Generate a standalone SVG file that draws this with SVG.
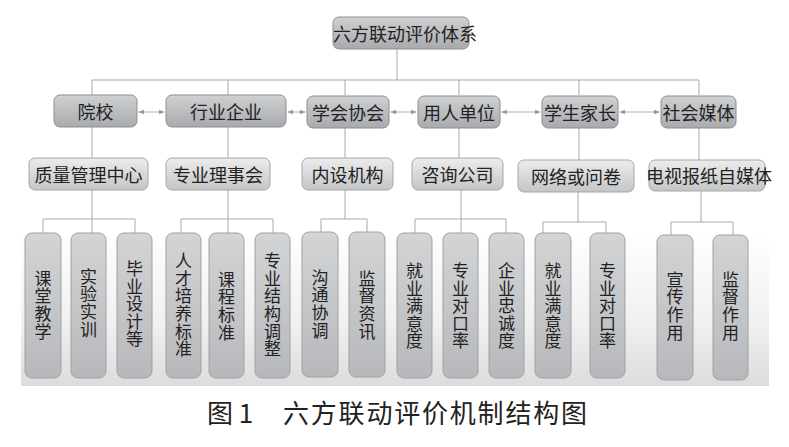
<svg xmlns="http://www.w3.org/2000/svg" width="789" height="447" viewBox="0 0 789 447">
<defs>
<linearGradient id="gBand" x1="0" y1="0" x2="0" y2="1">
<stop offset="0" stop-color="#ffffff"/>
<stop offset="0.6" stop-color="#f0f0f0"/>
<stop offset="1" stop-color="#dcdcdc"/>
</linearGradient>
<linearGradient id="gL1" x1="0" y1="0" x2="0" y2="1">
<stop offset="0" stop-color="#cfd0d2"/>
<stop offset="1" stop-color="#a9aaad"/>
</linearGradient>
<linearGradient id="gL2" x1="0" y1="0" x2="0" y2="1">
<stop offset="0" stop-color="#ececec"/>
<stop offset="1" stop-color="#c4c5c7"/>
</linearGradient>
<linearGradient id="gL3" x1="0" y1="0" x2="0" y2="1">
<stop offset="0" stop-color="#d3d4d6"/>
<stop offset="1" stop-color="#b7b8bb"/>
</linearGradient>
<marker id="ah" viewBox="0 0 8 8" refX="7" refY="4" markerWidth="6" markerHeight="6" orient="auto-start-reverse" markerUnits="userSpaceOnUse">
<path d="M0,1 L8,4 L0,7 z" fill="#999"/>
</marker>
</defs>
<style>
.t{font-family:"Noto Sans CJK SC","Noto Sans",sans-serif;fill:#222;text-anchor:middle;dominant-baseline:central}
.l1{fill:url(#gL1);stroke:#8e8f92;stroke-width:1}
.l2{fill:url(#gL2);stroke:#a5a6a8;stroke-width:1}
.l3{fill:url(#gL3);stroke:#a0a1a4;stroke-width:1}
.c{fill:none;stroke:#a9a9a9;stroke-width:1}
.a{fill:none;stroke:#b0b0b0;stroke-width:1;marker-start:url(#ah);marker-end:url(#ah)}
.f18{font-size:18px}
.v{font-family:"Noto Sans CJK SC","Noto Sans",sans-serif;fill:#222;font-size:17px;letter-spacing:0.6px;writing-mode:vertical-rl;text-orientation:upright;text-anchor:middle}
</style>
<rect x="21" y="230" width="748" height="156" fill="url(#gBand)"/>

<g id="connectors">
<path class="c" d="M397,49 V80 M92,80 H699 M92,80 V95 M228,80 V95 M345,80 V95 M459,80 V95 M579,80 V95 M699,80 V95"/>
<path class="c" d="M92,127 V158 M228,127 V158 M345,127 V158 M459,127 V158 M579,127 V160 M699,127 V160"/>
<path class="c" d="M92,190 V233 M43,219 H135 M43,219 V233 M135,219 V233"/>
<path class="c" d="M228,190 V233 M181,219 H273 M181,219 V233 M273,219 V233"/>
<path class="c" d="M345,190 V219 M321,219 H367 M321,219 V233 M367,219 V233"/>
<path class="c" d="M461,190 V233 M415,219 H506 M415,219 V233 M506,219 V233"/>
<path class="c" d="M578,192 V222 M543,222 H606 M543,222 V233 M606,222 V233"/>
<path class="c" d="M701,191 V222 M671,222 H733 M671,222 V235 M733,222 V235"/>
<line class="a" x1="139" y1="112" x2="164" y2="112"/>
<line class="a" x1="288" y1="112" x2="305" y2="112"/>
<line class="a" x1="391" y1="112" x2="416" y2="112"/>
<line class="a" x1="502" y1="112" x2="540" y2="112"/>
<line class="a" x1="620" y1="112" x2="659" y2="112"/>
</g>

<g id="root"><rect class="l1" x="333" y="17" width="136" height="32" rx="6"/><text class="t f18" x="405" y="33">六方联动评价体系</text></g>

<g id="n-yuanxiao"><rect class="l1" x="54" y="95" width="83" height="32" rx="6"/><text class="t f18" x="95.5" y="111">院校</text></g>
<g id="n-hangye"><rect class="l1" x="166" y="95" width="120" height="32" rx="6"/><text class="t f18" x="226" y="111">行业企业</text></g>
<g id="n-xuehui"><rect class="l1" x="307" y="96" width="82" height="32" rx="6"/><text class="t f18" x="348" y="112">学会协会</text></g>
<g id="n-yongren"><rect class="l1" x="418" y="96" width="82" height="32" rx="6"/><text class="t f18" x="459" y="112">用人单位</text></g>
<g id="n-xuesheng"><rect class="l1" x="542" y="96" width="76" height="32" rx="6"/><text class="t f18" x="580" y="112">学生家长</text></g>
<g id="n-shehui"><rect class="l1" x="661" y="96" width="75" height="32" rx="6"/><text class="t f18" x="698.5" y="112">社会媒体</text></g>

<g id="n-zhiliang"><rect class="l2" x="29" y="158" width="119" height="32" rx="6"/><text class="t f18" x="88.5" y="174">质量管理中心</text></g>
<g id="n-zhuanye"><rect class="l2" x="166" y="158" width="104" height="32" rx="6"/><text class="t f18" x="218" y="174">专业理事会</text></g>
<g id="n-neishe"><rect class="l2" x="302" y="158" width="91" height="32" rx="6"/><text class="t f18" x="347.5" y="174">内设机构</text></g>
<g id="n-zixun"><rect class="l2" x="412" y="158" width="91" height="32" rx="6"/><text class="t f18" x="457.5" y="174">咨询公司</text></g>
<g id="n-wangluo"><rect class="l2" x="518" y="160" width="116" height="32" rx="6"/><text class="t f18" x="576" y="176">网络或问卷</text></g>
<g id="n-dianshi"><rect class="l2" x="649" y="160" width="116" height="31" rx="6"/><text class="t f18" x="709" y="175">电视报纸自媒体</text></g>

<g id="n-ketang"><rect class="l3" x="25" y="233" width="36" height="145" rx="7"/><text class="v" x="43" y="305">课堂教学</text></g>
<g id="n-shiyan"><rect class="l3" x="71" y="233" width="35" height="145" rx="7"/><text class="v" x="88.5" y="303">实验实训</text></g>
<g id="n-biye"><rect class="l3" x="117" y="233" width="35" height="145" rx="7"/><text class="v" x="134.5" y="304">毕业设计等</text></g>
<g id="n-rencai"><rect class="l3" x="166" y="233" width="35" height="145" rx="7"/><text class="v" x="183.5" y="305">人才培养标准</text></g>
<g id="n-kecheng"><rect class="l3" x="209" y="233" width="35" height="145" rx="7"/><text class="v" x="226.5" y="306">课程标准</text></g>
<g id="n-jiegou"><rect class="l3" x="255" y="233" width="35" height="145" rx="7"/><text class="v" x="272.5" y="305">专业结构调整</text></g>
<g id="n-goutong"><rect class="l3" x="302" y="232" width="36" height="145" rx="7"/><text class="v" x="320" y="304">沟通协调</text></g>
<g id="n-jiandu"><rect class="l3" x="349" y="232" width="36" height="145" rx="7"/><text class="v" x="367" y="305">监督资讯</text></g>
<g id="n-jiuye1"><rect class="l3" x="397" y="233" width="35" height="145" rx="7"/><text class="v" x="414.5" y="306">就业满意度</text></g>
<g id="n-duikou1"><rect class="l3" x="443" y="233" width="35" height="145" rx="7"/><text class="v" x="460.5" y="306">专业对口率</text></g>
<g id="n-zhongcheng"><rect class="l3" x="489" y="233" width="35" height="145" rx="7"/><text class="v" x="506.5" y="306">企业忠诚度</text></g>
<g id="n-jiuye2"><rect class="l3" x="535" y="233" width="36" height="145" rx="7"/><text class="v" x="553" y="306">就业满意度</text></g>
<g id="n-duikou2"><rect class="l3" x="590" y="233" width="35" height="145" rx="7"/><text class="v" x="607.5" y="306">专业对口率</text></g>
<g id="n-xuanchuan"><rect class="l3" x="657" y="235" width="36" height="145" rx="7"/><text class="v" x="675" y="306">宣传作用</text></g>
<g id="n-jiandu2"><rect class="l3" x="713" y="235" width="35" height="145" rx="7"/><text class="v" x="730.5" y="306">监督作用</text></g>

<text font-family="Noto Sans CJK SC, Noto Sans, sans-serif" font-size="26" fill="#222" y="423"><tspan x="207">图 1</tspan><tspan x="283" letter-spacing="1.8">六方联动评价机制结构图</tspan></text>
</svg>
